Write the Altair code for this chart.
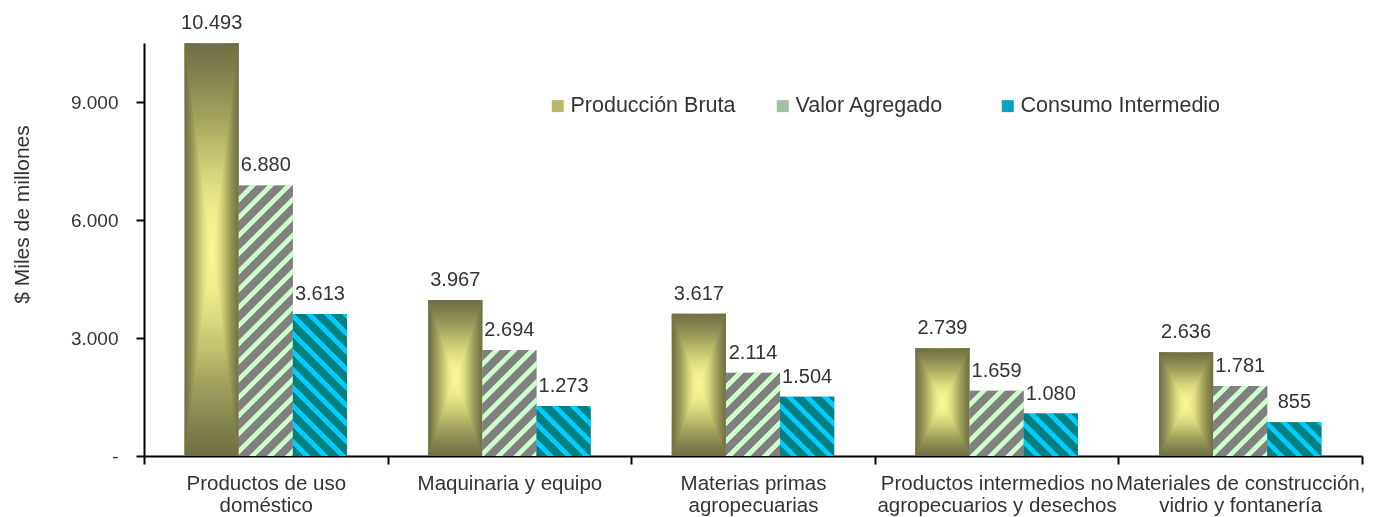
import altair as alt
import pandas as pd

# ---------------- data ----------------
categories = [
    "Productos de uso\ndoméstico",
    "Maquinaria y equipo",
    "Materias primas\nagropecuarias",
    "Productos intermedios no\nagropecuarios y desechos",
    "Materiales de construcción,\nvidrio y fontanería",
]
series = ["Producción Bruta", "Valor Agregado", "Consumo Intermedio"]
produccion_bruta = [10493, 3967, 3617, 2739, 2636]
valor_agregado = [6880, 2694, 2114, 1659, 1781]
consumo_intermedio = [3613, 1273, 1504, 1080, 855]
y_ticks = [0, 3000, 6000, 9000]
y_max = 10500

# ---------------- layout / style ----------------
PLOT_W = 1218
PLOT_H = 413
GROUP_PAD = 0.75
FONT = "Liberation Sans"
TXT = "#333333"
STRIPE_PERIOD = 18

bar_w = PLOT_W / len(categories) / (len(series) + 2 * GROUP_PAD)


def bar_h(v):
    return v / y_max * PLOT_H


def stripe_gradient(w, h, base, line, period, line_frac, rising):
    L = w + h
    s = L / (w * w + h * h)
    if rising:
        x1, y1, x2, y2 = 0, 0, w * s, h * s
    else:
        x1, y1, x2, y2 = 0, 1, w * s, 1 - h * s
    soft = 0.8
    a = period * (1 - line_frac)
    stops = []

    def add(px, color):
        off = px / L
        if 0 <= off <= 1:
            stops.append({"offset": round(off, 5), "color": color})

    k = 0
    while k * period <= L:
        p0 = k * period
        add(p0, base)
        add(p0 + a, base)
        add(p0 + a + soft, line)
        add(p0 + period - soft, line)
        k += 1
    return {"gradient": "linear", "x1": x1, "y1": y1, "x2": x2, "y2": y2, "stops": stops}


pb_half = [(0.0, "#6f6f43"), (0.05, "#7b7b4a"), (0.11, "#8c8c53"), (0.18, "#a3a35e"),
           (0.25, "#bdbd6c"), (0.32, "#d6d67d"), (0.4, "#ecec8c"), (0.5, "#fbfb98")]
pb_stops = [{"offset": o, "color": c} for o, c in pb_half] + \
           [{"offset": round(1 - o, 3), "color": c} for o, c in reversed(pb_half[:-1])]
pb_h = {"gradient": "linear", "x1": 0, "y1": 0, "x2": 1, "y2": 0, "stops": pb_stops}
pb_v = {"gradient": "linear", "x1": 0, "y1": 0, "x2": 0, "y2": 1, "stops": pb_stops}


def striped_fill(values, base, line, rising, period):
    conds = []
    for i, v in enumerate(values):
        conds.append({"test": f"datum.i === {i}",
                      "value": stripe_gradient(bar_w, bar_h(v), base, line, period, 0.42, rising)})
    return alt.FillValue(value=base, condition=conds)


rows = []
for s_idx, (name, vals) in enumerate(zip(series, [produccion_bruta, valor_agregado, consumo_intermedio])):
    for i, (c, v) in enumerate(zip(categories, vals)):
        rows.append({"cat": c, "i": i, "serie": name, "v": v})
df = pd.DataFrame(rows)

x_enc = alt.X("cat:N", sort=categories, title=None,
              scale=alt.Scale(paddingInner=0, paddingOuter=0),
              axis=alt.Axis(labelAngle=0, tickBand="extent", labelExpr="split(datum.label, '\\n')",
                            labelFontSize=20.5, labelColor=TXT, labelFont=FONT, labelLineHeight=22,
                            labelPadding=9, labelOverlap=False, labelLimit=400, labelBaseline="top",
                            tickSize=8, tickColor="black", tickWidth=2,
                            domainColor="black", domainWidth=2))
xo_enc = alt.XOffset("serie:N", sort=series,
                     scale=alt.Scale(domain=series, paddingInner=0, paddingOuter=GROUP_PAD))
y_enc = alt.Y("v:Q", title="$ Miles de millones",
              scale=alt.Scale(domain=[0, y_max], nice=False, zero=True),
              axis=alt.Axis(values=y_ticks, grid=False,
                            labelExpr="datum.value === 0 ? '-' : replace(format(datum.value, ',.0f'), ',', '.')",
                            labelFontSize=19, labelColor=TXT, labelFont=FONT, labelPadding=18,
                            tickSize=8, tickColor="black", tickWidth=2,
                            domainColor="black", domainWidth=2,
                            titleFontSize=21, titleFont=FONT, titleColor=TXT, titleFontWeight="normal",
                            titleAngle=270, titleX=-122, titleY=171, titleAlign="center",
                            titleBaseline="middle"))

base = alt.Chart(df)

legend_layer = base.mark_bar().encode(
    x=x_enc, xOffset=xo_enc, y=y_enc,
    color=alt.Color("serie:N", sort=series,
                    scale=alt.Scale(domain=series, range=["#b8b868", "#a3bfa3", "#06a3bd"]),
                    legend=alt.Legend(title=None, orient="none", legendX=403, legendY=52,
                                      direction="horizontal", symbolType="square", symbolSize=144,
                                      symbolStrokeWidth=0, labelFontSize=21.5, labelColor=TXT,
                                      labelFont=FONT, labelOffset=2, columnPadding=1, padding=0,
                                      gridAlign="all", labelLimit=0)),
)

pb_base = base.transform_filter(f"datum.serie === '{series[0]}'").mark_bar(fill=pb_h).encode(
    x=x_enc, xOffset=xo_enc, y=y_enc)
pb_over = base.transform_filter(f"datum.serie === '{series[0]}'").mark_bar(
    fill=pb_v, blend="darken").encode(x=x_enc, xOffset=xo_enc, y=y_enc)

va_layer = base.transform_filter(f"datum.serie === '{series[1]}'").mark_bar().encode(
    x=x_enc, xOffset=xo_enc, y=y_enc,
    fill=striped_fill(valor_agregado, "#808080", "#ccffcc", True, STRIPE_PERIOD))
ci_layer = base.transform_filter(f"datum.serie === '{series[2]}'").mark_bar().encode(
    x=x_enc, xOffset=xo_enc, y=y_enc,
    fill=striped_fill(consumo_intermedio, "#008080", "#00ccff", False, STRIPE_PERIOD))

text_layer = base.transform_calculate(
    lbl="replace(format(datum.v, ',.0f'), ',', '.')"
).mark_text(dy=-14, baseline="alphabetic", fontSize=20, color=TXT, font=FONT).encode(
    x=x_enc, xOffset=xo_enc, y=y_enc, text="lbl:N")

chart = alt.layer(legend_layer, pb_base, pb_over, va_layer, ci_layer, text_layer).properties(
    width=PLOT_W, height=PLOT_H,
    autosize=alt.AutoSizeParams(type="none"),
    padding={"left": 136, "top": 35, "right": 5, "bottom": 60},
).configure(font=FONT).configure_view(stroke=None)

chart.save("out.html", embed_options={"renderer": "svg", "actions": False})
